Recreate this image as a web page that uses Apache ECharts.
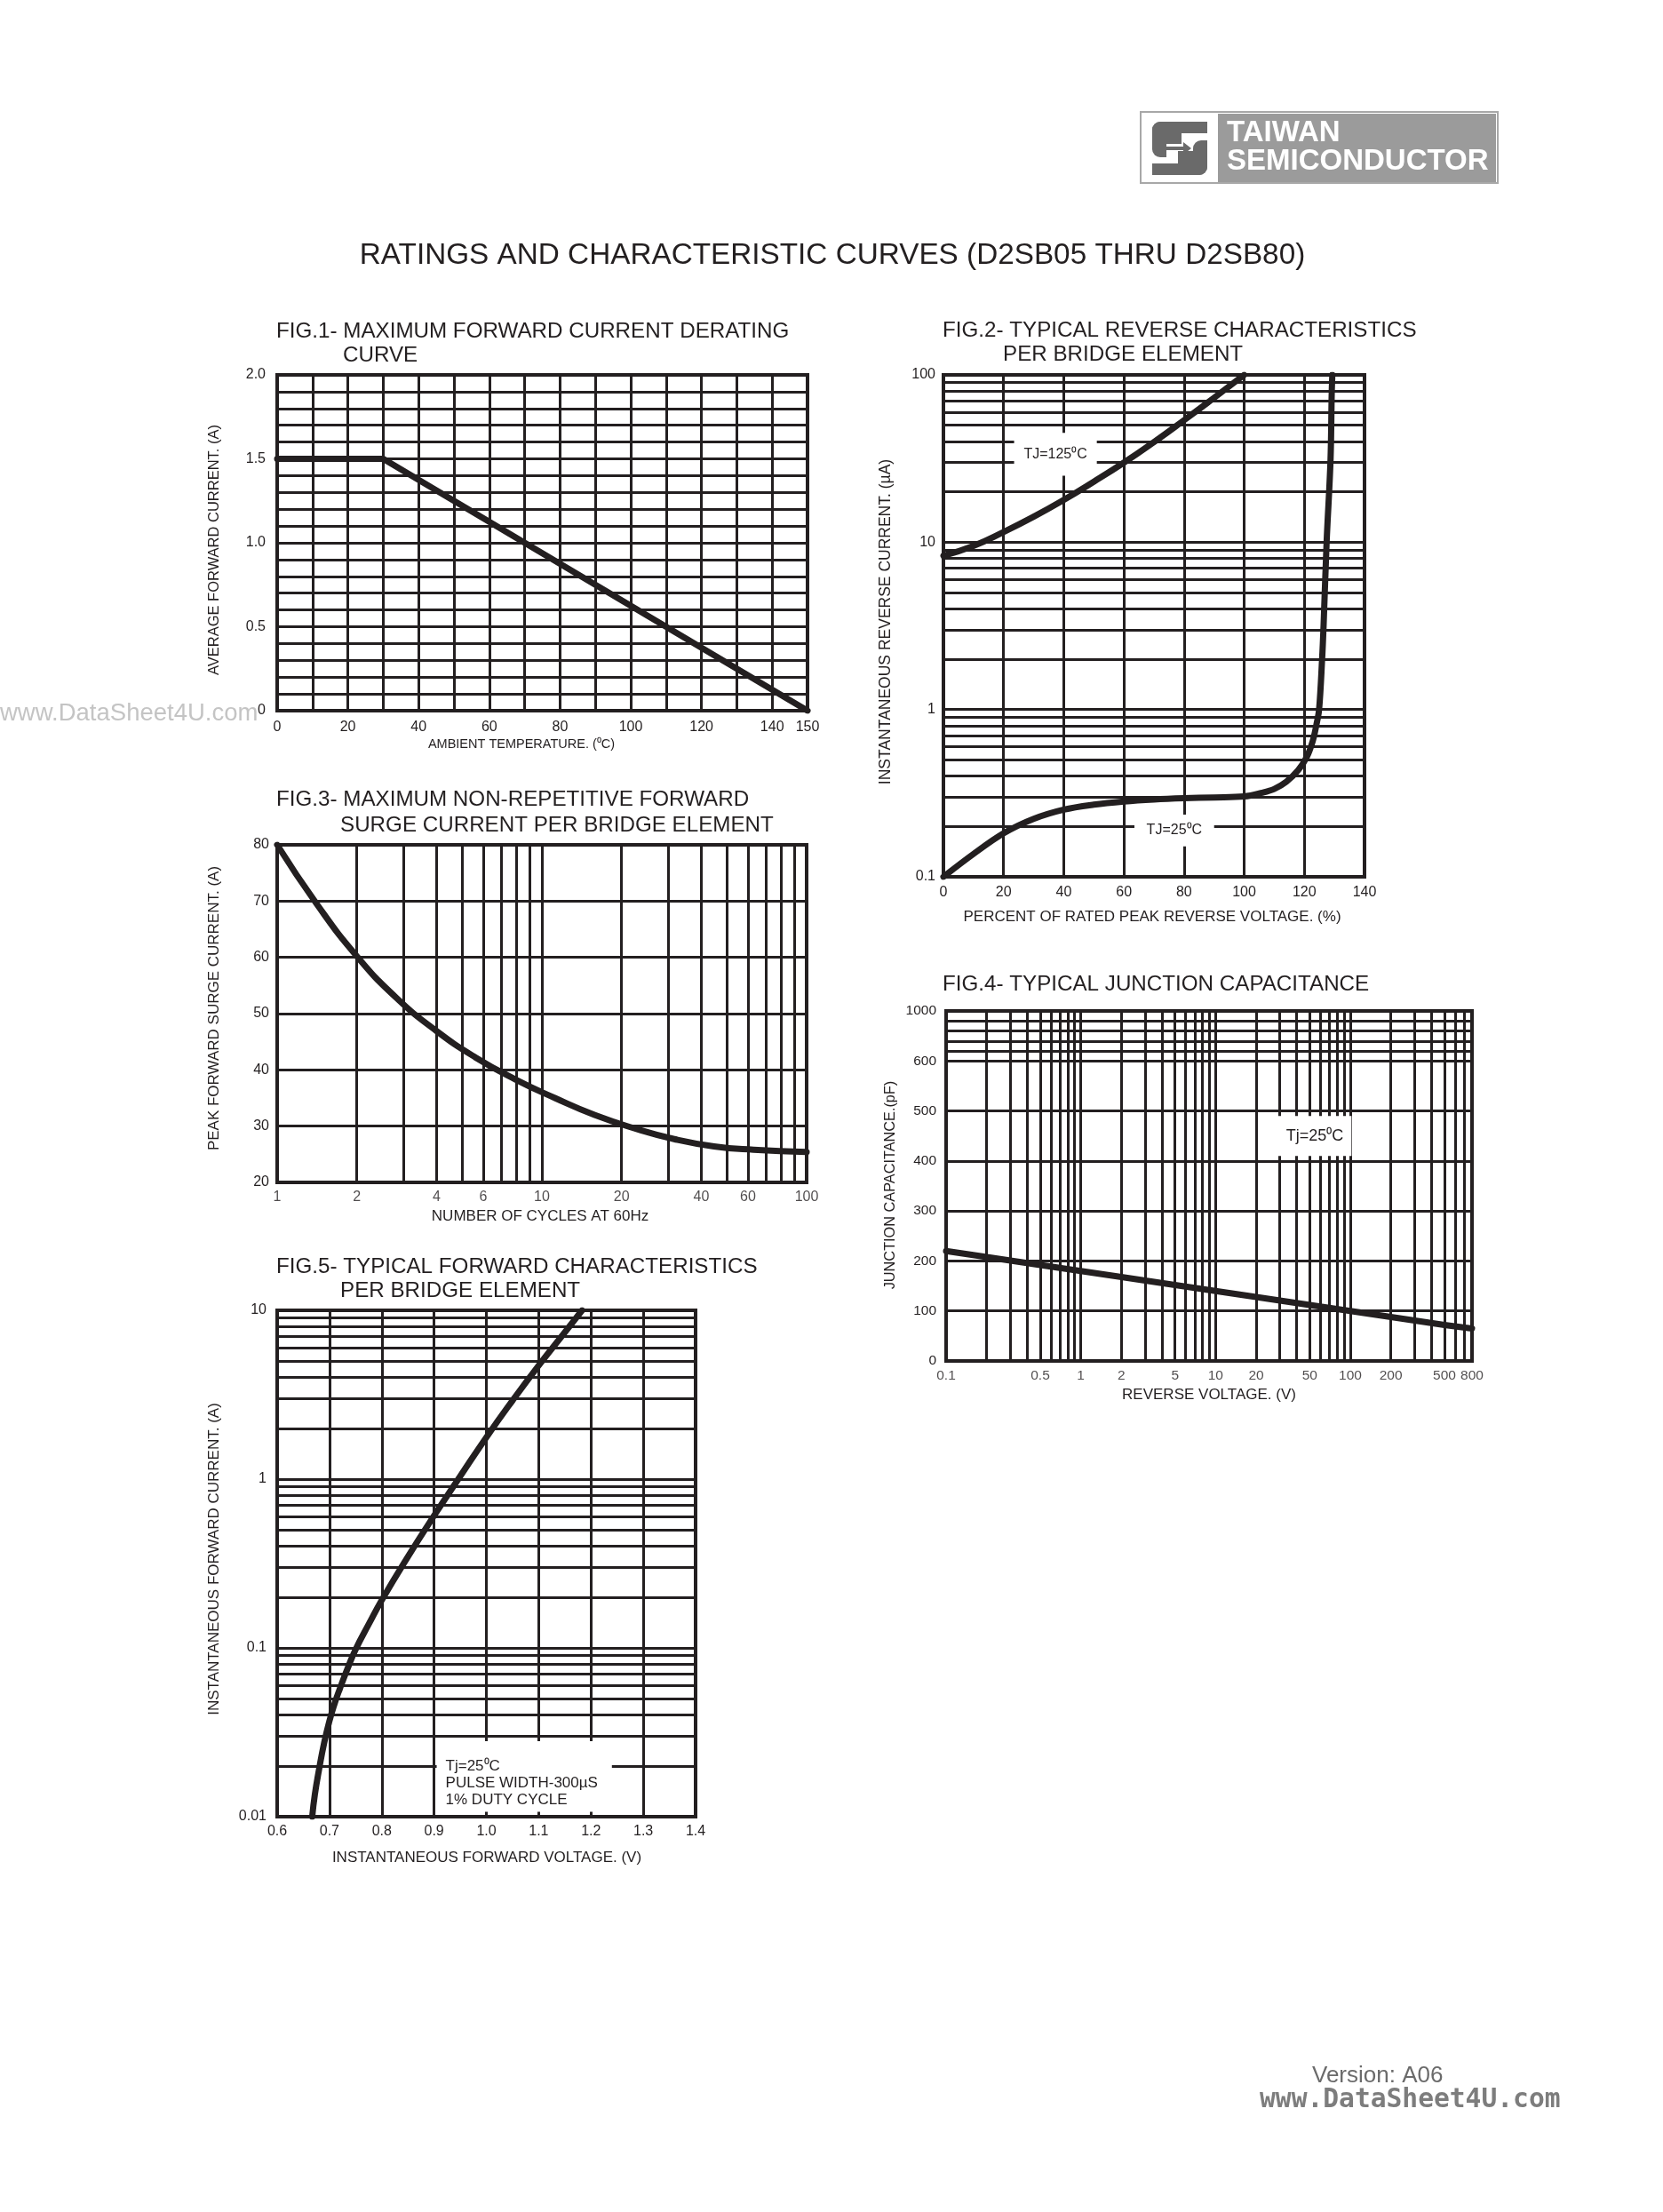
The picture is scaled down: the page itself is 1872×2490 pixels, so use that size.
<!DOCTYPE html>
<html><head><meta charset="utf-8">
<script src="https://cdn.jsdelivr.net/npm/echarts@6/dist/echarts.min.js"></script>
<style>html,body{margin:0;padding:0;background:#fff}#c{width:1872px;height:2490px}</style>
</head><body><div id="c"></div>
<script>
// ---------------- data ----------------
// FIG.1 derating curve
const fig1Temp = [0, 30, 150];
const fig1Current = [1.5, 1.5, 0];
const fig1XTicks = [0, 20, 40, 60, 80, 100, 120, 140, 150];
const fig1YTicks = [0, 0.5, 1, 1.5, 2];
const fig1YTickText = ['0', '0.5', '1.0', '1.5', '2.0'];

// FIG.2 reverse characteristics
const fig2Volt125 = [0, 10, 20, 30, 40, 50, 60, 70, 80, 90, 100];
const fig2Curr125 = [8.3, 9.5, 11.5, 14.2, 17.9, 23, 29.9, 39.7, 53.6, 73, 100];
const fig2Volt25 = [0, 10, 20, 30, 40, 50, 60, 70, 80, 90, 100, 106, 110, 114, 118, 120.8, 122.8, 124, 124.9, 125.9, 126.4, 127.4, 128.7, 129.1, 129.3];
const fig2Curr25 = [0.1, 0.137, 0.182, 0.222, 0.252, 0.27, 0.282, 0.29, 0.295, 0.298, 0.302, 0.318, 0.335, 0.37, 0.435, 0.52, 0.65, 0.81, 1, 2, 3.2, 10, 31, 78, 100];
const fig2XTicks = [0, 20, 40, 60, 80, 100, 120, 140];
const fig2YTicks = [0.1, 1, 10, 100];
const fig2YTickText = ['0.1', '1', '10', '100'];
const fig2YGrid = [0.1, 0.2, 0.3, 0.4, 0.5, 0.6, 0.7, 0.8, 0.9, 1, 2, 3, 4, 5, 6, 7, 8, 9, 10, 20, 30, 40, 50, 60, 70, 80, 90, 100];
const fig2Box125 = [[23.5, 25], [51, 45]];
const fig2Box25 = [[63.5, 0.152], [90, 0.235]];

// FIG.3 surge current
const fig3Cycles = [1, 1.41, 2, 2.82, 4, 5.62, 7.94, 11.2, 15.8, 22.4, 31.6, 44.7, 63, 100];
const fig3Current = [80, 69.5, 60.2, 52.8, 46.9, 42.2, 38.3, 35.0, 32.0, 29.6, 27.7, 26.4, 25.8, 25.4];
const fig3XTicks = [1, 2, 4, 6, 10, 20, 40, 60, 100];
const fig3XGrid = [1, 2, 3, 4, 5, 6, 7, 8, 9, 10, 20, 30, 40, 50, 60, 70, 80, 90, 100];

// FIG.4 junction capacitance
const fig4Volt = [0.1, 0.2, 0.5, 1, 2, 5, 10, 20, 50, 100, 200, 500, 800];
const fig4Cap = [220, 208, 192, 180, 168, 152, 140, 128, 112, 100, 88, 72, 65];
const fig4XTicks = [0.1, 0.5, 1, 2, 5, 10, 20, 50, 100, 200, 500, 800];
const fig4YTickText = ['0', '100', '200', '300', '400', '500', '600', '1000'];
const fig4XGrid = [0.1, 0.2, 0.3, 0.4, 0.5, 0.6, 0.7, 0.8, 0.9, 1, 2, 3, 4, 5, 6, 7, 8, 9, 10, 20, 30, 40, 50, 60, 70, 80, 90, 100, 200, 300, 400, 500, 600, 700, 800];
const fig4YBand = [620, 640, 660, 680];
const fig4Box = [[29, 410], [102, 490]];

// FIG.5 forward characteristics
const fig5Volt = [0.667, 0.672, 0.68, 0.69, 0.70, 0.71, 0.72, 0.735, 0.75, 0.775, 0.8, 0.85, 0.9, 0.95, 1.0, 1.05, 1.1, 1.15, 1.183];
const fig5Curr = [0.01, 0.0135, 0.019, 0.0275, 0.037, 0.047, 0.0575, 0.076, 0.098, 0.138, 0.192, 0.347, 0.607, 1.04, 1.77, 2.92, 4.71, 7.41, 10];
const fig5YTicks = [0.01, 0.1, 1, 10];
const fig5YTickText = ['0.01', '0.1', '1', '10'];
const fig5YGrid = [0.01, 0.02, 0.03, 0.04, 0.05, 0.06, 0.07, 0.08, 0.09, 0.1, 0.2, 0.3, 0.4, 0.5, 0.6, 0.7, 0.8, 0.9, 1, 2, 3, 4, 5, 6, 7, 8, 9, 10];
const fig5Box = [[0.905, 0.0107], [1.24, 0.028]];

// ---------------- styling ----------------
const INK = '#231f20';
const F = '"Liberation Sans", Arial, Helvetica, sans-serif';
const GRID_W = 3, CURVE_W = 7;

function near(list, v) { return list.findIndex(t => Math.abs(t - v) < 1e-6 * Math.max(1, Math.abs(t))); }
function tf(size) { return { color: INK, fontSize: size, fontFamily: F }; }
const split = { show: true, lineStyle: { color: INK, width: GRID_W } };
const hide = { show: false };

function valAxis(gi, min, max, interval, fmt, margin, size) {
  return {
    gridIndex: gi, type: 'value', min, max, interval,
    axisLine: hide, axisTick: hide, splitLine: split,
    axisLabel: Object.assign({ formatter: fmt, margin, showMinLabel: true, showMaxLabel: true }, tf(size))
  };
}
function logAxis(gi, min, max, fmt, margin, size) {
  return {
    gridIndex: gi, type: 'log', logBase: 10, min, max,
    axisLine: hide, axisTick: hide, splitLine: hide,
    axisLabel: fmt ? Object.assign({ formatter: fmt, margin, showMinLabel: true, showMaxLabel: true }, tf(size)) : hide
  };
}
function gridLines(xi, yi, key, values) {
  return {
    type: 'line', xAxisIndex: xi, yAxisIndex: yi, data: [], silent: true,
    markLine: {
      silent: true, symbol: ['none', 'none'], animation: false, z: 5,
      label: { show: false }, lineStyle: { color: INK, width: GRID_W, type: 'solid', cap: 'butt' },
      emphasis: { disabled: true },
      data: values.map(v => ({ [key]: v }))
    }
  };
}
function box(xi, yi, corners, text, pos, size, offset) {
  return {
    type: 'line', xAxisIndex: xi, yAxisIndex: yi, data: [], silent: true,
    markArea: {
      silent: true, z: 6, animation: false,
      itemStyle: { color: '#ffffff', borderWidth: 0 },
      label: { show: true, position: pos, distance: 10, offset: offset || [0, 0], color: INK, fontSize: size, lineHeight: 19, fontFamily: F, formatter: text },
      emphasis: { disabled: true },
      data: [[{ coord: corners[0] }, { coord: corners[1] }]]
    }
  };
}
function curve(xi, yi, xs, ys, smooth) {
  return {
    type: 'line', xAxisIndex: xi, yAxisIndex: yi, z: 10, silent: true,
    showSymbol: false, symbol: 'none', smooth: smooth,
    lineStyle: { color: INK, width: CURVE_W, cap: 'round', join: 'round' },
    data: xs.map((x, i) => [x, ys[i]])
  };
}
function tickLabels(xi, yi, xs, yBase, dist, size) {
  return {
    type: 'scatter', xAxisIndex: xi, yAxisIndex: yi, silent: true, clip: false, z: 20,
    symbolSize: 1, itemStyle: { color: 'rgba(0,0,0,0)' },
    label: Object.assign({ show: true, position: 'bottom', distance: dist, formatter: p => String(p.value[0]) }, tf(size)),
    data: xs.map(x => [x, yBase])
  };
}
function T(x, y, text, size, o) {
  o = o || {};
  return {
    type: 'text', x, y, rotation: o.rot || 0, z: 50, silent: true,
    style: {
      text, fill: o.color || INK, fontSize: size, fontFamily: o.family || F, fontWeight: o.weight || 'normal',
      align: o.align || 'left', verticalAlign: 'middle'
    }
  };
}

const gridBase = { show: true, borderColor: INK, borderWidth: 4, backgroundColor: '#fff', containLabel: false };
const TS = 24.2; // figure title size
const LOGO = '#6a6a6a';

const option = {
  animation: false,
  backgroundColor: '#ffffff',
  grid: [
    Object.assign({ left: 312, top: 422, width: 597, height: 378 }, gridBase),
    Object.assign({ left: 1062, top: 422, width: 474, height: 565 }, gridBase),
    Object.assign({ left: 312, top: 951, width: 596, height: 380 }, gridBase),
    Object.assign({ left: 1065, top: 1138, width: 592, height: 394 }, gridBase),
    Object.assign({ left: 312, top: 1475, width: 471, height: 570 }, gridBase)
  ],
  xAxis: [
    valAxis(0, 0, 150, 10, v => near(fig1XTicks, v) >= 0 ? String(v) : '', 11, 16),
    valAxis(1, 0, 140, 20, v => near(fig2XTicks, v) >= 0 ? String(v) : '', 10, 16),
    logAxis(2, 1, 100, null),
    logAxis(3, 0.1, 800, null),
    valAxis(4, 0.6, 1.4, 0.1, v => v.toFixed(1), 9, 16)
  ],
  yAxis: [
    valAxis(0, 0, 2, 0.1, v => { const i = near(fig1YTicks, v); return i >= 0 ? fig1YTickText[i] : ''; }, 13, 16),
    logAxis(1, 0.1, 100, v => { const i = near(fig2YTicks, v); return i >= 0 ? fig2YTickText[i] : ''; }, 9, 16),
    valAxis(2, 20, 80, 10, v => String(v), 9, 16),
    valAxis(3, 0, 700, 100, v => fig4YTickText[Math.round(v / 100)] || '', 11, 15.5),
    logAxis(4, 0.01, 10, v => { const i = near(fig5YTicks, v); return i >= 0 ? fig5YTickText[i] : ''; }, 12, 16)
  ],
  series: [
    // log-scale grid lines
    gridLines(1, 1, 'yAxis', fig2YGrid),
    gridLines(2, 2, 'xAxis', fig3XGrid),
    gridLines(3, 3, 'xAxis', fig4XGrid),
    gridLines(3, 3, 'yAxis', fig4YBand),
    gridLines(4, 4, 'yAxis', fig5YGrid),
    // annotation boxes
    box(1, 1, fig2Box125, 'TJ=125⁰C', 'inside', 16),
    box(1, 1, fig2Box25, 'TJ=25⁰C', 'inside', 16),
    box(3, 3, fig4Box, 'Tj=25⁰C', 'inside', 18),
    box(4, 4, fig5Box, 'Tj=25⁰C\nPULSE WIDTH-300µS\n1% DUTY CYCLE', 'insideLeft', 17, [0, 8]),
    // curves
    curve(0, 0, fig1Temp, fig1Current, false),
    curve(1, 1, fig2Volt125, fig2Curr125, 0.5),
    curve(1, 1, fig2Volt25, fig2Curr25, 0.35),
    curve(2, 2, fig3Cycles, fig3Current, 0.5),
    curve(3, 3, fig4Volt, fig4Cap, false),
    curve(4, 4, fig5Volt, fig5Curr, 0.5),
    // custom tick labels for log x axes
    tickLabels(2, 2, fig3XTicks, 20, 8, 16),
    tickLabels(3, 3, fig4XTicks, 0, 8, 15.5)
  ],
  graphic: [
    // logo
    { type: 'rect', z: 40, shape: { x: 1284, y: 126, width: 402, height: 80 }, style: { fill: '#fff', stroke: '#a8a8a8', lineWidth: 2 } },
    { type: 'rect', z: 41, shape: { x: 1371, y: 128, width: 313, height: 77 }, style: { fill: '#9b9b9b' } },
    { type: 'rect', z: 41, shape: { x: 1297, y: 137, width: 62, height: 13, r: [9, 0, 0, 0] }, style: { fill: LOGO } },
    { type: 'rect', z: 41, shape: { x: 1297, y: 137, width: 16, height: 40, r: [9, 0, 0, 9] }, style: { fill: LOGO } },
    { type: 'rect', z: 41, shape: { x: 1313, y: 150, width: 17, height: 12 }, style: { fill: LOGO } },
    { type: 'rect', z: 41, shape: { x: 1326, y: 170, width: 17, height: 14 }, style: { fill: LOGO } },
    { type: 'rect', z: 41, shape: { x: 1343, y: 158, width: 16, height: 39, r: [9, 0, 9, 0] }, style: { fill: LOGO } },
    { type: 'rect', z: 41, shape: { x: 1297, y: 184, width: 62, height: 13, r: [0, 0, 9, 0] }, style: { fill: LOGO } },
    { type: 'polygon', z: 42, shape: { points: [[1313, 165], [1332, 165], [1332, 160], [1341, 167], [1332, 174], [1332, 169], [1313, 169]] }, style: { fill: LOGO } },
    T(1381, 150, 'TAIWAN', 33, { color: '#fff', weight: 'bold' }),
    T(1381, 182, 'SEMICONDUCTOR', 33, { color: '#fff', weight: 'bold' }),
    // page title
    T(937, 288, 'RATINGS AND CHARACTERISTIC CURVES (D2SB05 THRU D2SB80)', 33.3, { align: 'center' }),
    // watermark
    T(0, 803, 'www.DataSheet4U.com', 27.5, { color: '#c4c4c4' }),
    // FIG.1
    T(311, 373, 'FIG.1- MAXIMUM FORWARD CURRENT DERATING', TS),
    T(386, 400, 'CURVE', TS),
    T(241, 619, 'AVERAGE FORWARD CURRENT. (A)', 16.5, { rot: Math.PI / 2, align: 'center' }),
    T(587, 838, 'AMBIENT TEMPERATURE. (⁰C)', 14.5, { align: 'center' }),
    // FIG.2
    T(1061, 372, 'FIG.2- TYPICAL REVERSE CHARACTERISTICS', TS),
    T(1129, 399, 'PER BRIDGE ELEMENT', TS),
    T(997, 700, 'INSTANTANEOUS REVERSE CURRENT. (µA)', 17.5, { rot: Math.PI / 2, align: 'center' }),
    T(1297, 1032, 'PERCENT OF RATED PEAK REVERSE VOLTAGE. (%)', 17, { align: 'center' }),
    // FIG.3
    T(311, 900, 'FIG.3- MAXIMUM NON-REPETITIVE FORWARD', TS),
    T(383, 929, 'SURGE CURRENT PER BRIDGE ELEMENT', TS),
    T(241, 1135, 'PEAK FORWARD SURGE CURRENT. (A)', 17, { rot: Math.PI / 2, align: 'center' }),
    T(608, 1369, 'NUMBER OF CYCLES AT 60Hz', 17, { align: 'center' }),
    // FIG.4
    T(1061, 1108, 'FIG.4- TYPICAL JUNCTION CAPACITANCE', TS),
    T(1003, 1334, 'JUNCTION CAPACITANCE.(pF)', 16.3, { rot: Math.PI / 2, align: 'center' }),
    T(1361, 1570, 'REVERSE VOLTAGE. (V)', 17, { align: 'center' }),
    // FIG.5
    T(311, 1426, 'FIG.5- TYPICAL FORWARD CHARACTERISTICS', TS),
    T(383, 1453, 'PER BRIDGE ELEMENT', TS),
    T(241, 1755, 'INSTANTANEOUS FORWARD CURRENT. (A)', 17, { rot: Math.PI / 2, align: 'center' }),
    T(548, 2091, 'INSTANTANEOUS FORWARD VOLTAGE. (V)', 17, { align: 'center' }),
    // footer
    T(1477, 2337, 'Version: A06', 26, { color: '#6b6b6b' }),
    T(1418, 2364, 'www.DataSheet4U.com', 29.6, { color: '#7d7d7d', weight: 'bold', family: '"DejaVu Sans Mono", monospace' })
  ]
};

const chart = echarts.init(document.getElementById('c'), null, { renderer: 'canvas', width: 1872, height: 2490 });
chart.setOption(option);
</script></body></html>
